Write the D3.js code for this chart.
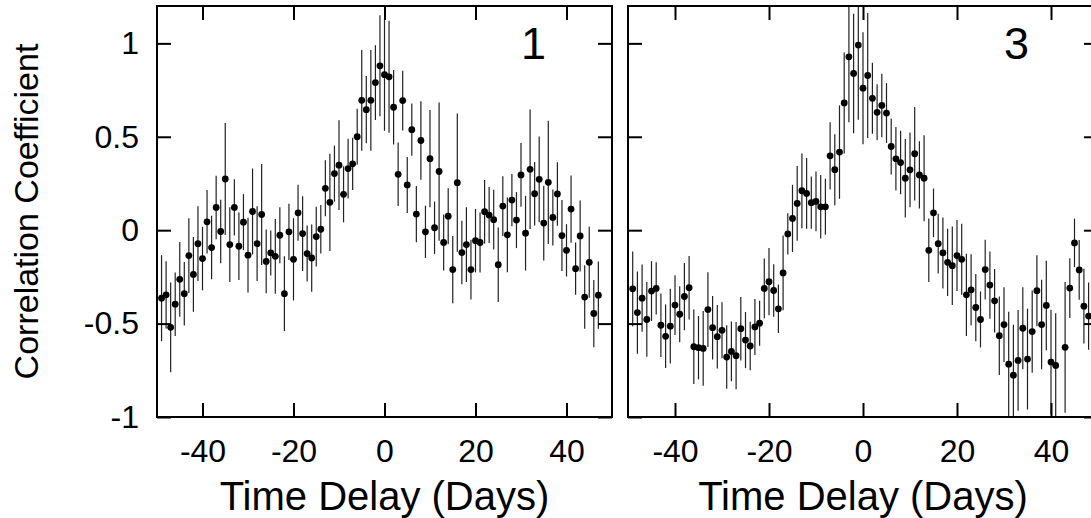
<!DOCTYPE html>
<html lang="en">
<head>
<meta charset="utf-8">
<title>Cross correlation</title>
<script src="https://cdn.jsdelivr.net/npm/d3@7/dist/d3.min.js"></script>
<style>
  body { margin: 0; background: white; }
  text { font-family: "Liberation Sans", Arial, sans-serif; fill: black; }
</style>
</head>
<body>
<script>
// panel "1" : lag (days), correlation, error half-width
var lags1 = [-49,-48,-47,-46,-45,-44,-43,-42,-41,-40,-39,-38,-37,-36,-35,-34,-33,-32,-31,-30,
  -29,-28,-27,-26,-25,-24,-23,-22,-21,-20,-19,-18,-17,-16,-15,-14,-13,-12,-11,-10,
  -9,-8,-7,-6,-5,-4,-3,-2,-1,0,1,2,3,4,5,6,7,8,9,10,
  11,12,13,14,15,16,17,18,19,20,21,22,23,24,25,26,27,28,29,30,
  31,32,33,34,35,36,37,38,39,40,41,42,43,44,45,46,47];
var corr1 = [-0.364,-0.346,-0.52,-0.396,-0.263,-0.34,-0.136,-0.237,-0.072,-0.152,0.045,-0.093,0.122,-0.007,0.274,-0.077,0.122,-0.086,0.043,-0.134,
  0.1,-0.072,0.084,-0.167,-0.122,-0.14,-0.027,-0.34,-0.009,-0.156,0.093,-0.018,-0.125,-0.149,-0.034,0.005,0.224,0.149,0.303,0.348,
  0.192,0.33,0.355,0.5,0.695,0.645,0.695,0.79,0.88,0.832,0.821,0.658,0.299,0.694,0.242,0.538,0.086,0.48,-0.009,0.383,
  0.013,0.314,-0.066,0.075,-0.211,0.254,-0.12,-0.077,-0.211,-0.056,-0.066,0.099,0.081,0.056,-0.185,0.129,-0.025,0.161,0.054,0.296,
  -0.016,0.326,0.195,0.272,0.038,0.256,0.068,0.194,-0.029,-0.108,0.113,-0.206,-0.031,-0.358,-0.172,-0.446,-0.348];
var err1 = [0.23,0.18,0.24,0.17,0.2,0.17,0.2,0.2,0.2,0.17,0.17,0.17,0.17,0.17,0.3,0.2,0.15,0.18,0.15,0.2,
  0.23,0.2,0.27,0.17,0.12,0.2,0.15,0.2,0.15,0.22,0.15,0.2,0.15,0.18,0.16,0.13,0.15,0.26,0.15,0.24,
  0.15,0.16,0.14,0.15,0.27,0.18,0.27,0.2,0.27,0.3,0.3,0.2,0.17,0.16,0.15,0.14,0.15,0.21,0.14,0.26,
  0.14,0.37,0.15,0.15,0.18,0.37,0.17,0.2,0.16,0.17,0.16,0.17,0.15,0.16,0.2,0.16,0.2,0.14,0.15,0.17,
  0.2,0.32,0.17,0.23,0.2,0.33,0.15,0.17,0.19,0.14,0.18,0.14,0.19,0.17,0.19,0.18,0.18];

// panel "3"
var lags3 = [-49,-48,-47,-46,-45,-44,-43,-42,-41,-40,-39,-38,-37,-36,-35,-34,-33,-32,-31,-30,
  -29,-28,-27,-26,-25,-24,-23,-22,-21,-20,-19,-18,-17,-16,-15,-14,-13,-12,-11,-10,
  -9,-8,-7,-6,-5,-4,-3,-2,-1,0,1,2,3,4,5,6,7,8,9,10,
  11,12,13,14,15,16,17,18,19,20,21,22,23,24,25,26,27,28,29,30,
  31,32,33,34,35,36,37,38,39,40,41,43,44,45,46,47,48];
var corr3 = [-0.314,-0.441,-0.364,-0.478,-0.326,-0.312,-0.509,-0.568,-0.514,-0.401,-0.45,-0.355,-0.308,-0.624,-0.629,-0.633,-0.425,-0.522,-0.57,-0.536,
  -0.679,-0.649,-0.672,-0.527,-0.588,-0.62,-0.518,-0.498,-0.312,-0.276,-0.323,-0.421,-0.229,-0.02,0.063,0.143,0.211,0.197,0.147,0.154,
  0.125,0.125,0.398,0.324,0.418,0.681,0.928,0.839,0.991,0.76,0.828,0.706,0.631,0.668,0.627,0.448,0.382,0.362,0.278,0.323,
  0.409,0.296,0.278,-0.108,0.093,-0.072,-0.122,-0.172,-0.19,-0.136,-0.156,-0.346,-0.319,-0.414,-0.478,-0.211,-0.294,-0.378,-0.565,-0.505,
  -0.717,-0.776,-0.697,-0.525,-0.69,-0.543,-0.324,-0.505,-0.403,-0.706,-0.724,-0.627,-0.31,-0.068,-0.213,-0.407,-0.46];
var err3 = [0.2,0.22,0.18,0.2,0.16,0.14,0.17,0.17,0.2,0.16,0.15,0.18,0.17,0.2,0.17,0.2,0.2,0.17,0.17,0.15,
  0.17,0.16,0.18,0.17,0.15,0.13,0.15,0.12,0.16,0.18,0.14,0.13,0.2,0.11,0.18,0.2,0.2,0.19,0.14,0.16,
  0.17,0.15,0.18,0.19,0.25,0.27,0.35,0.32,0.4,0.3,0.335,0.19,0.15,0.17,0.16,0.15,0.17,0.17,0.21,0.2,
  0.25,0.18,0.23,0.17,0.13,0.16,0.19,0.18,0.21,0.19,0.19,0.22,0.19,0.18,0.15,0.16,0.18,0.17,0.21,0.2,
  0.28,0.27,0.27,0.22,0.27,0.22,0.19,0.24,0.24,0.28,0.28,0.35,0.16,0.13,0.16,0.2,0.18];

var xTicks = [-40, -20, 0, 20, 40];
var yTicks = [-1, -0.5, 0, 0.5, 1];

var W = 1091, H = 518;
var plotTop = 6, plotBottom = 417;

var svg = d3.select("body").append("svg")
  .attr("width", W)
  .attr("height", H);

var y = d3.scaleLinear().domain([-1, 1.2]).range([plotBottom, plotTop]);

function fmt(d) { return String(d); }

function panel(id, left, right, lags, corr, err, label, showY) {
  var x = d3.scaleLinear().domain([-50, 50]).range([left, right]);
  var g = svg.append("g");

  svg.append("clipPath").attr("id", "clip" + id)
    .append("rect")
    .attr("x", left).attr("y", plotTop)
    .attr("width", right - left).attr("height", plotBottom - plotTop);

  var pts = lags.map(function(d, i) { return {lag: d, r: corr[i], e: err[i]}; });
  var marks = g.append("g").attr("clip-path", "url(#clip" + id + ")");

  // error bars
  marks.selectAll("line.err").data(pts).enter().append("line")
    .attr("class", "err")
    .attr("x1", function(d) { return x(d.lag); })
    .attr("x2", function(d) { return x(d.lag); })
    .attr("y1", function(d) { return y(d.r + d.e); })
    .attr("y2", function(d) { return y(d.r - d.e); })
    .attr("stroke", "#222")
    .attr("stroke-width", 1.2);

  // points
  marks.selectAll("circle").data(pts).enter().append("circle")
    .attr("cx", function(d) { return x(d.lag); })
    .attr("cy", function(d) { return y(d.r); })
    .attr("r", 3.4)
    .attr("fill", "black");

  // axes, ticks point inwards on all four sides
  var ax = [
    g.append("g").attr("transform", "translate(0," + plotBottom + ")")
      .call(d3.axisBottom(x).tickValues(xTicks).tickSize(-14).tickSizeOuter(0).tickPadding(22).tickFormat(fmt)),
    g.append("g").attr("transform", "translate(0," + plotTop + ")")
      .call(d3.axisTop(x).tickValues(xTicks).tickSize(-14).tickSizeOuter(0).tickFormat("")),
    g.append("g").attr("transform", "translate(" + left + ",0)")
      .call(d3.axisLeft(y).tickValues(yTicks).tickSize(-14).tickSizeOuter(0).tickPadding(18).tickFormat(showY ? fmt : "")),
    g.append("g").attr("transform", "translate(" + right + ",0)")
      .call(d3.axisRight(y).tickValues(yTicks).tickSize(-14).tickSizeOuter(0).tickFormat(""))
  ];
  ax.forEach(function(a) {
    a.select(".domain").remove();
    a.selectAll(".tick line").attr("stroke", "black").attr("stroke-width", 2);
    a.selectAll("text").style("font-size", "32px").style("font-family", "'Liberation Sans', Arial, sans-serif");
  });

  g.append("rect")
    .attr("x", left).attr("y", plotTop)
    .attr("width", right - left).attr("height", plotBottom - plotTop)
    .attr("fill", "none")
    .attr("stroke", "black")
    .attr("stroke-width", 2);

  g.append("text")
    .attr("x", x(30))
    .attr("y", y(0.915))
    .style("font-size", "45px")
    .text(label);

  g.append("text")
    .attr("x", (left + right) / 2)
    .attr("y", 510)
    .attr("text-anchor", "middle")
    .style("font-size", "40px")
    .text("Time Delay (Days)");
}

panel(1, 157, 612, lags1, corr1, err1, "1", true);
panel(3, 628, 1098, lags3, corr3, err3, "3", false);

svg.append("text")
  .attr("transform", "translate(38," + ((plotTop + plotBottom) / 2) + ") rotate(-90)")
  .attr("text-anchor", "middle")
  .style("font-size", "34px")
  .text("Correlation Coefficient");
</script>
</body>
</html>
